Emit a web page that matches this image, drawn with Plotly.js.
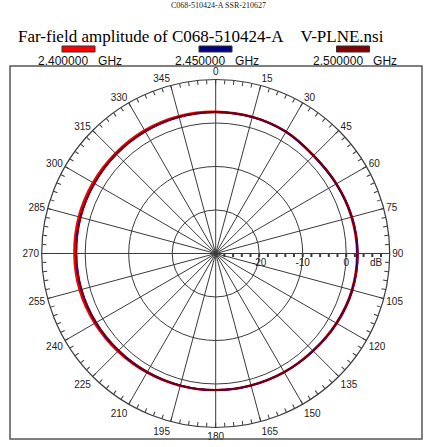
<!DOCTYPE html>
<html>
<head>
<meta charset="utf-8">
<script src="https://cdn.plot.ly/plotly-3.0.1.min.js"></script>
<style>html,body{margin:0;padding:0;background:#fff;}#chart{width:430px;height:447px;}</style>
</head>
<body>
<div id="chart"></div>
<script>
// ---- data ----
const angles = [0,15,30,45,60,75,90,105,120,135,150,165,180,195,210,225,240,255,270,285,300,315,330,345,360];
const amp2400 = [2.6,2.5,2.3,1.8,2.0,2.3,2.5,2.4,2.0,1.6,1.5,1.4,1.4,1.5,1.6,1.8,2.1,2.4,2.5,2.6,2.6,2.6,2.7,2.7,2.6];
const amp2450 = [2.5,2.5,2.3,1.8,2.0,2.4,2.6,2.5,2.1,1.7,1.5,1.4,1.4,1.4,1.5,1.6,1.8,2.0,2.1,2.2,2.2,2.3,2.4,2.5,2.5];
const amp2500 = [2.5,2.5,2.4,1.9,2.1,2.5,2.7,2.6,2.2,1.7,1.5,1.4,1.4,1.4,1.4,1.5,1.7,1.9,2.0,2.1,2.2,2.3,2.4,2.5,2.5];
const freqLabels = ['2.400000','2.450000','2.500000'];
const seriesColors = ['#ff0000','#000080','#800000'];
const angTickVals = [0,15,30,45,60,75,90,105,120,135,150,165,180,195,210,225,240,255,270,285,300,315,330,345];
const angTickText = ['0','15','30','45','60','75','90','105','120','135','150','165','180','195','210','225','240','255','270','285','300','315','330','345'];
const minorAngVals = Array.from({length:120},(_,i)=>i*3);
const radTickVals = [-20,-10,0];
const radTickText = ['-20','-10','0'];
const radMinorVals = [-28,-26,-24,-22,-20,-18,-16,-14,-12,-10,-8,-6,-4,-2,0,2,4,6,8];
const radRange = [-30,10];
const topNote = 'C068-510424-A SSR-210627';
const mainTitle = 'Far-field amplitude of C068-510424-A\u00a0\u00a0\u00a0\u00a0V-PLNE.nsi';

const W = 430, H = 447;
const series = [amp2400, amp2450, amp2500];
const widths = [2.4, 2, 1.6];
const traces = series.map((s,i)=>({
  type:'scatterpolar', mode:'lines', r:s, theta:angles, subplot:'polar',
  line:{color:seriesColors[i], width:widths[i], shape:'spline'}, showlegend:false,
  name:freqLabels[i]+' GHz'
}));
traces.push({type:'scatterpolar', mode:'lines', r:[], theta:[], subplot:'polar2', showlegend:false});

const dom = {x:[41.7/W, 389.7/W], y:[1-427.5/H, 1-79.5/H]};
const shapes = [{type:'rect', xref:'paper', yref:'paper', x0:10/W, x1:422/W, y0:1-439/H, y1:1-66/H, line:{color:'#555', width:1.5}, fillcolor:'rgba(0,0,0,0)'}];
const annotations = [
  {text:topNote, xref:'paper', yref:'paper', x:218/W, y:1-6/H, xanchor:'center', yanchor:'middle', showarrow:false, font:{family:'Liberation Serif, Times New Roman, serif', size:8, color:'#222'}},
  {text:'dB', xref:'paper', yref:'paper', x:376.7/W, y:1-262/H, xanchor:'center', yanchor:'middle', showarrow:false, font:{family:'Liberation Sans, Arial, sans-serif', size:10, color:'#222'}}
];
const swCenters = [78.5, 215.5, 353];
const lblCenters = [80, 217, 355];
freqLabels.forEach((f,i)=>{
  shapes.push({type:'rect', xref:'paper', yref:'paper', x0:(swCenters[i]-16.5)/W, x1:(swCenters[i]+16.5)/W, y0:1-52/H, y1:1-46/H, fillcolor:seriesColors[i], line:{color:'#333', width:1}});
  annotations.push({text:f+'\u00a0\u00a0\u00a0GHz', xref:'paper', yref:'paper', x:lblCenters[i]/W, y:1-60.5/H, xanchor:'center', yanchor:'middle', showarrow:false, font:{family:'Liberation Sans, Arial, sans-serif', size:12, color:'#111'}});
});

const layout = {
  width:W, height:H, margin:{l:0,r:0,t:0,b:0}, paper_bgcolor:'#fff', showlegend:false,
  title:{text:mainTitle, x:18/W, xanchor:'left', y:1-36/H, yanchor:'middle', font:{family:'Liberation Serif, Times New Roman, serif', size:17, color:'#000'}},
  polar:{
    domain:dom, bgcolor:'#fff',
    angularaxis:{direction:'clockwise', rotation:90, tickmode:'array', tickvals:angTickVals, ticktext:angTickText, ticks:'', showgrid:true, gridcolor:'#3a3a3a', gridwidth:1, showline:true, linecolor:'#3a3a3a', linewidth:1.2, tickfont:{family:'Liberation Sans, Arial, sans-serif', size:10, color:'#222'}},
    radialaxis:{range:radRange, angle:0, side:'clockwise', tickmode:'array', tickvals:radTickVals, ticktext:radTickText, ticks:'', showline:true, linecolor:'#3a3a3a', linewidth:1, showgrid:true, gridcolor:'#3a3a3a', gridwidth:1, tickfont:{family:'Liberation Sans, Arial, sans-serif', size:10, color:'#222'}}
  },
  polar2:{
    domain:dom, bgcolor:'rgba(0,0,0,0)',
    angularaxis:{direction:'clockwise', rotation:90, tickmode:'array', tickvals:minorAngVals, ticks:'inside', ticklen:4, tickcolor:'#3a3a3a', tickwidth:1, showticklabels:false, showgrid:false, showline:false},
    radialaxis:{range:radRange, angle:0, side:'clockwise', tickmode:'array', tickvals:radMinorVals, ticks:'outside', ticklen:3, tickwidth:2, tickcolor:'#3a3a3a', showticklabels:false, showgrid:false, showline:false}
  },
  shapes:shapes, annotations:annotations
};
Plotly.newPlot('chart', traces, layout, {displayModeBar:false, staticPlot:true});
</script>
</body>
</html>
